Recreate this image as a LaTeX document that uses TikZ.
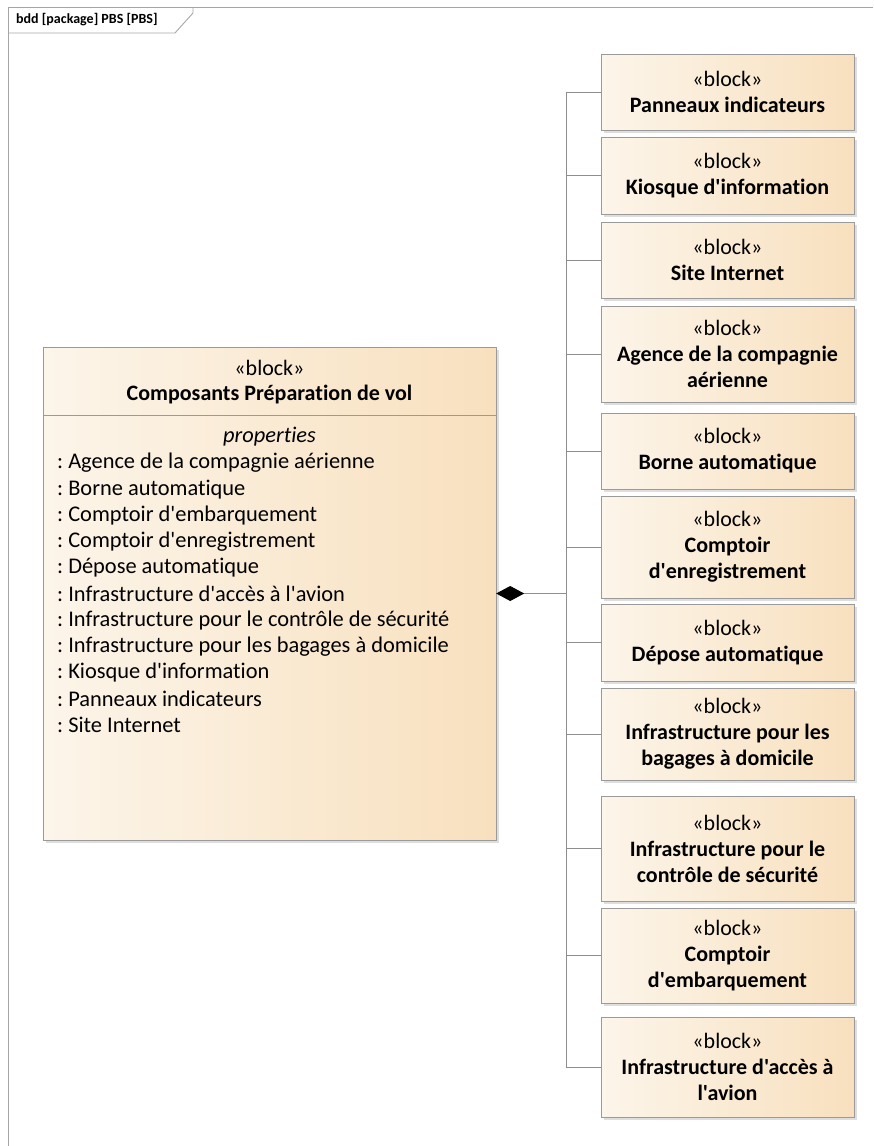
\documentclass[tikz,border=0pt]{standalone}
\usepackage{fontspec}
\setmainfont{Carlito}[Ligatures={TeXOff,NoCommon}]
\usetikzlibrary{positioning,arrows.meta,shadows}
\frenchspacing
\definecolor{blockl}{RGB}{252,245,234}
\definecolor{blockr}{RGB}{248,224,190}
\definecolor{blockline}{HTML}{9A9A9A}
\definecolor{wirec}{HTML}{8E8E8E}
\tikzset{
  block/.style={draw=blockline, left color=blockl, right color=blockr, align=flush center,
    inner sep=3pt, font=\fontsize{22}{26}\selectfont,
    drop shadow={shadow xshift=3pt, shadow yshift=-3pt, fill=black!13, opacity=1}},
  rblock/.style={block, minimum width=251pt, text width=247pt},
  prop/.style={anchor=west, inner sep=0pt, font=\fontsize{22.4}{26}\selectfont},
  wire/.style={draw=wirec, line width=0.9pt},
  pkgframe/.style={draw=black!35, line width=0.9pt},
}
\begin{document}
\begin{tikzpicture}[x=1pt, y=-1pt]
\useasboundingbox (0,0) rectangle (873,1146);

% package frame
\draw[pkgframe] (873,7) -- (8,7) -- (8,1146);
\draw[pkgframe] (8,33) -- (175,33) -- (193,13) -- (193,7);
\node[anchor=west, inner sep=0pt, font=\fontsize{14}{16}\selectfont\bfseries] (hdr) at (16,20) {bdd [package] PBS [PBS]};

% main block
\node[block, minimum width=453pt, minimum height=493pt] (comp) at (269.5,593.5) {};
\node[align=center, inner sep=0pt, font=\fontsize{22}{25}\selectfont] (comph) at (269.5,382) {«block»\\\bfseries Composants Préparation de vol};
\coordinate (divy) at (0,415);
\draw[blockline, line width=0.9pt] (comp.west |- divy) -- (comp.east |- divy);
\node[inner sep=0pt, font=\fontsize{22.4}{26}\selectfont\itshape] (props) at (269.5,437) {properties};
\foreach \p [count=\i from 0] in {Agence de la compagnie aérienne, Borne automatique,
  Comptoir d'embarquement, Comptoir d'enregistrement, Dépose automatique,
  Infrastructure d'accès à l'avion, Infrastructure pour le contrôle de sécurité,
  Infrastructure pour les bagages à domicile, Kiosque d'information,
  Panneaux indicateurs, Site Internet}
  \node[prop] (p\i) at (57,{463+26.2*\i}) {: \p};

% parts
\coordinate (trunk) at (566,0);
\foreach \nm/\ytop/\ybot/\txt in {
  pan/54/130/{Panneaux indicateurs},
  kio/137/214/{Kiosque d'information},
  sit/222/298/{Site Internet},
  age/306/402/{Agence de la compagnie\\aérienne},
  bor/413/489/{Borne automatique},
  enr/496/598/{Comptoir\\d'enregistrement},
  dep/604/681/{Dépose automatique},
  bag/688/780/{Infrastructure pour les\\bagages à domicile},
  sec/796/901/{Infrastructure pour le\\contrôle de sécurité},
  emb/908/1003/{Comptoir\\d'embarquement},
  acc/1017/1117/{Infrastructure d'accès à\\l'avion}}{
  \node[rblock, minimum height={(\ybot-\ytop)*1pt}] (\nm) at (727.5,{(\ytop+\ybot)/2}) {«block»\\\bfseries\txt};
  \draw[wire] (trunk |- \nm.west) -- (\nm.west);
}
\draw[wire] (trunk |- pan.west) -- (trunk |- acc.west);
\draw[wire, -{Diamond[length=28pt, width=15pt, black]}] (trunk |- comp.east) -- (comp.east);
\end{tikzpicture}
\end{document}
